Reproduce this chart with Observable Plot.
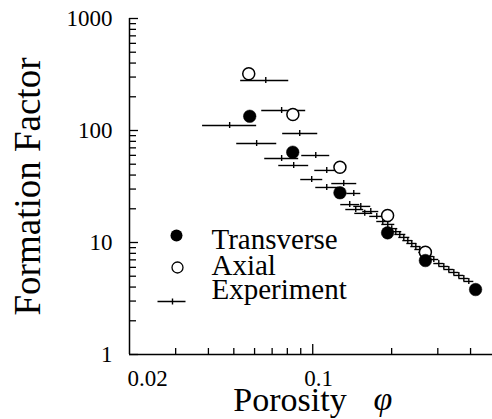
<!DOCTYPE html>
<html>
<head>
<meta charset="utf-8">
<script src="https://cdn.jsdelivr.net/npm/d3@7"></script>
<script src="https://cdn.jsdelivr.net/npm/@observablehq/plot@0.6"></script>
<style>
  html, body { margin: 0; padding: 0; background: white; }
</style>
</head>
<body>
<div id="chart"></div>
<script>
// Transverse (filled circles)
const transversePhi = [0.0575, 0.0839, 0.127, 0.193, 0.269, 0.418];
const transverseF   = [134, 64, 27.8, 12.2, 6.9, 3.8];

// Axial (open circles)
const axialPhi = [0.057, 0.084, 0.127, 0.193, 0.269];
const axialF   = [321, 139, 47, 17.4, 8.2];

// Experiment: centre porosity, lower/upper porosity, formation factor
const expPhi = [0.0662, 0.0761, 0.0482, 0.0892, 0.0611, 0.1027, 0.0761, 0.0846, 0.1131, 0.0991,
  0.1313, 0.1131, 0.1434, 0.1384, 0.1459, 0.1579, 0.1525, 0.1665, 0.1755, 0.1850,
  0.1933, 0.2002, 0.2074, 0.2148, 0.2225, 0.2305, 0.2387, 0.2473, 0.2561, 0.2653,
  0.2772, 0.2896, 0.3026, 0.3162, 0.3304, 0.3453, 0.3608, 0.3770, 0.3939];
const expLo = [0.0531, 0.0639, 0.0380, 0.0768, 0.0513, 0.0908, 0.0656, 0.0742, 0.1018, 0.0900,
  0.1182, 0.1027, 0.1348, 0.1279, 0.1337, 0.1447, 0.1434, 0.1551, 0.1650, 0.1755,
  0.1834, 0.1899, 0.1985, 0.2056, 0.2129, 0.2206, 0.2285, 0.2366, 0.2451, 0.2539,
  0.2653, 0.2772, 0.2896, 0.3026, 0.3162, 0.3304, 0.3453, 0.3608, 0.3770];
const expHi = [0.0810, 0.0940, 0.0611, 0.1045, 0.0729, 0.1161, 0.0884, 0.0965, 0.1257, 0.1092,
  0.1472, 0.1257, 0.1525, 0.1511, 0.1565, 0.1694, 0.1665, 0.1786, 0.1883, 0.1985,
  0.2056, 0.2111, 0.2186, 0.2265, 0.2346, 0.2408, 0.2494, 0.2584, 0.2676, 0.2772,
  0.2896, 0.3026, 0.3162, 0.3304, 0.3453, 0.3608, 0.3770, 0.3939, 0.4116];
const expF = [279.5, 150.8, 110.8, 94.0, 76.5, 59.8, 56.2, 48.7, 44.0, 36.5,
  33.6, 31.0, 27.4, 21.8, 19.7, 18.2, 21.0, 18.9, 17.1, 15.4,
  14.5, 13.3, 12.5, 11.8, 11.1, 10.4, 9.8, 9.2, 8.66, 8.14,
  7.50, 7.05, 6.49, 6.11, 5.74, 5.40, 5.08, 4.77, 4.49];

// Axis ticks and labels
const xDomain = [0.02, 0.485];
const yDomain = [1, 1000];
const xLabelTicks = [0.02, 0.1];
const xMajorTicks = [0.1];
const xMinorTicks = [0.03, 0.04, 0.05, 0.06, 0.07, 0.08, 0.09, 0.2, 0.3, 0.4];
const yMajorTicks = [1, 10, 100, 1000];
const yMinorTicks = [2, 3, 4, 5, 6, 7, 8, 9, 20, 30, 40, 50, 60, 70, 80, 90, 200, 300, 400, 500, 600, 700, 800, 900];
const legendLabels = ["Transverse", "Axial", "Experiment"];
const xTitle = "Porosity";
const xSymbol = "φ";
const yTitle = "Formation Factor";

const transverse = transversePhi.map((x, i) => ({x, y: transverseF[i]}));
const axial = axialPhi.map((x, i) => ({x, y: axialF[i]}));
const experiment = expPhi.map((x, i) => ({x, lo: expLo[i], hi: expHi[i], y: expF[i]}));

const W = 492, H = 419, mT = 18, mB = 65, mL = 129, mR = 0;
const fw = W - mL - mR, fh = H - mT - mB;
const serif = "'Liberation Serif', serif";

const expSymbol = {
  draw(ctx) { ctx.moveTo(-14, 0); ctx.lineTo(14, 0); ctx.moveTo(1, -3); ctx.lineTo(1, 3); }
};

const legendText = (label, dy) => Plot.text([label], {
  text: d => d, frameAnchor: "top-left", dx: 82, dy, textAnchor: "start", lineAnchor: "middle",
  fontSize: 29, fontFamily: serif
});

const chart = Plot.plot({
  width: W, height: H,
  marginTop: mT, marginBottom: mB, marginLeft: mL, marginRight: mR,
  x: {type: "log", domain: xDomain},
  y: {type: "log", domain: yDomain},
  style: {fontFamily: serif, background: "white", color: "black", overflow: "visible"},
  marks: [
    // axis lines
    Plot.ruleX([xDomain[0]], {stroke: "black", strokeWidth: 1.5}),
    Plot.ruleY([yDomain[0]], {stroke: "black", strokeWidth: 1.5}),
    // inward ticks
    Plot.ruleY(yMajorTicks, {insetRight: fw - 9, stroke: "black", strokeWidth: 1.3}),
    Plot.ruleY(yMinorTicks, {insetRight: fw - 7, stroke: "black", strokeWidth: 1.3}),
    Plot.ruleX(xMajorTicks, {insetTop: fh - 10, stroke: "black", strokeWidth: 1.3}),
    Plot.ruleX(xMinorTicks, {insetTop: fh - 6, stroke: "black", strokeWidth: 1.3}),
    // tick labels
    Plot.axisY(yMajorTicks, {tickSize: 0, tickPadding: 17, fontSize: 23, tickFormat: d => String(d), label: null}),
    Plot.axisX([xLabelTicks[0]], {tickSize: 0, tickPadding: 15, dx: 18, fontSize: 23, tickFormat: d => String(d), label: null}),
    Plot.axisX([xLabelTicks[1]], {tickSize: 0, tickPadding: 15, dx: 6, fontSize: 23, tickFormat: d => String(d), label: null}),
    // axis titles
    Plot.text([yTitle], {text: d => d, frameAnchor: "left", dx: -101, rotate: -90, textAnchor: "middle", lineAnchor: "middle", fontSize: 37, fontFamily: serif}),
    Plot.text([xTitle], {text: d => d, frameAnchor: "bottom", dx: -21, dy: 46, textAnchor: "middle", lineAnchor: "middle", fontSize: 34, fontFamily: serif}),
    Plot.text([xSymbol], {text: d => d, frameAnchor: "bottom", dx: 72, dy: 45, textAnchor: "middle", lineAnchor: "middle", fontSize: 34, fontStyle: "italic", fontFamily: serif}),
    // experiment error bars
    Plot.ruleY(experiment, {y: "y", x1: "lo", x2: "hi", stroke: "black", strokeWidth: 1.4}),
    Plot.ruleX(experiment, {x: "x", y1: "y", y2: "y", insetTop: -3, insetBottom: -3, stroke: "black", strokeWidth: 1.4}),
    // model points
    Plot.dot(axial, {x: "x", y: "y", r: 6, fill: "white", stroke: "black", strokeWidth: 1.5}),
    Plot.dot(transverse, {x: "x", y: "y", r: 6.3, fill: "black", stroke: "black", strokeWidth: 0.5}),
    // legend
    Plot.dot([legendLabels[0]], {frameAnchor: "top-left", dx: 47, dy: 217, r: 6, fill: "black"}),
    Plot.dot([legendLabels[1]], {frameAnchor: "top-left", dx: 48, dy: 249, r: 5.5, fill: "white", stroke: "black", strokeWidth: 1.3}),
    Plot.dot([legendLabels[2]], {frameAnchor: "top-left", dx: 42, dy: 283, symbol: expSymbol, fill: "none", stroke: "black", strokeWidth: 1.4}),
    legendText(legendLabels[0], 221),
    legendText(legendLabels[1], 247),
    legendText(legendLabels[2], 271)
  ]
});
document.getElementById("chart").appendChild(chart);
</script>
</body>
</html>
